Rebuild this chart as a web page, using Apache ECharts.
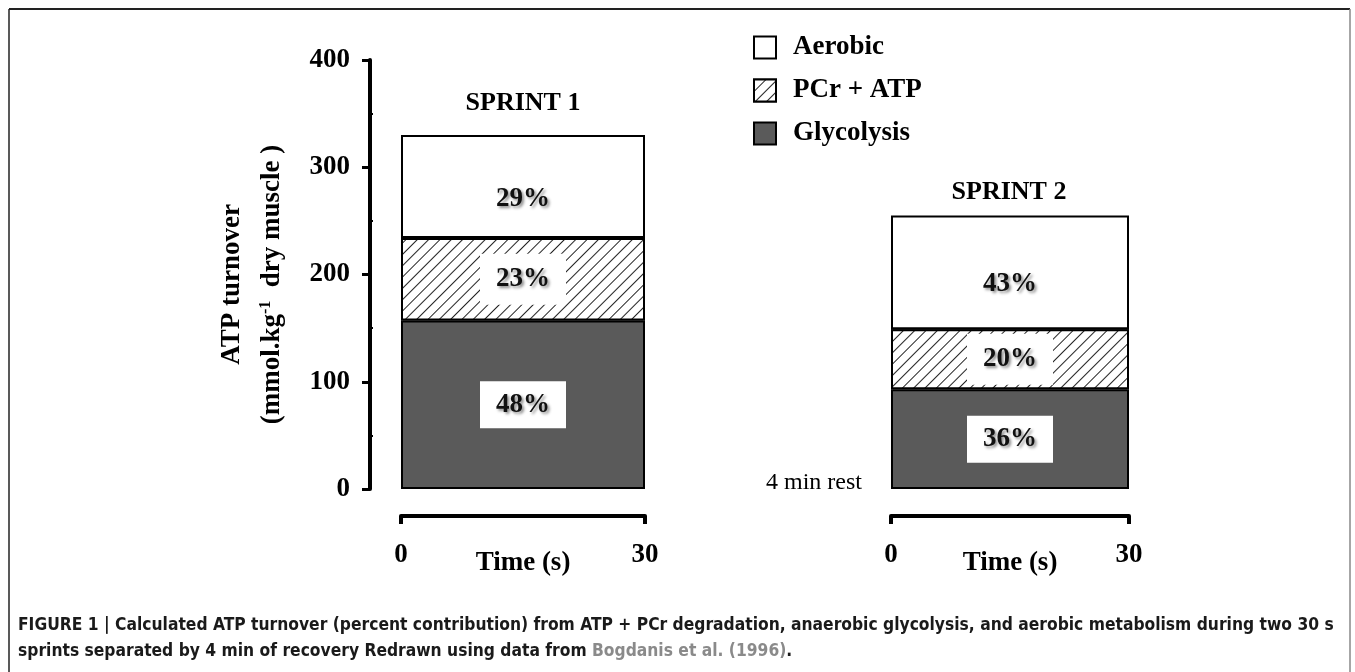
<!DOCTYPE html>
<html>
<head>
<meta charset="utf-8">
<script src="https://cdn.jsdelivr.net/npm/echarts@6/dist/echarts.min.js"></script>
<style>
  html, body { margin: 0; padding: 0; background: #fff; }
  #chart { width: 1355px; height: 672px; }
</style>
</head>
<body>
<div id="chart"></div>
<script>
// data (mmol.kg-1 dry muscle)
const sprints = ['SPRINT 1', 'SPRINT 2']
const glycolysis = [157, 93]
const pcrAtp = [77, 56]
const aerobic = [96, 106]
const glycolysisPct = ['48%', '36%']
const pcrAtpPct = ['23%', '20%']
const aerobicPct = ['29%', '43%']
const yTicks = [0, 100, 200, 300, 400]
const timeTicks = [0, 30]

const serif = 'Liberation Serif'
const narrow = "'Liberation Sans Narrow', 'DejaVu Sans Condensed', Roboto, sans-serif"
const chart = echarts.init(document.getElementById('chart'))

const grids = [
    { left: 401, width: 244, top: 60, height: 429 },
    { left: 891, width: 238, top: 60, height: 429 }
]

const hatch = {
    symbol: 'rect',
    symbolSize: 1,
    color: '#222',
    backgroundColor: '#fff',
    dashArrayX: [1, 0],
    dashArrayY: [1, 7],
    rotation: -Math.PI / 4
}

const shadowText = {
    fontFamily: serif,
    fontWeight: 'bold',
    fontSize: 27,
    color: '#111',
    textShadowColor: 'rgba(0,0,0,0.45)',
    textShadowBlur: 3,
    textShadowOffsetX: 2,
    textShadowOffsetY: 2
}

const xAxes = []
const yAxes = []
const series = []

sprints.forEach((name, i) => {
    // hidden category axis for the bar
    xAxes.push({ type: 'category', gridIndex: i, data: [name], show: false })
    // visible time axis 0..30 s
    xAxes.push({
        type: 'value', gridIndex: i, min: timeTicks[0], max: timeTicks[1], interval: 30,
        position: 'bottom', offset: 27,
        axisLine: { show: true, onZero: false, lineStyle: { color: '#000', width: 4 } },
        axisTick: { show: true, inside: false, length: 8, lineStyle: { color: '#000', width: 4 } },
        splitLine: { show: false },
        axisLabel: { margin: 26, fontFamily: serif, fontWeight: 'bold', fontSize: 27, color: '#000' },
        name: 'Time (s)', nameLocation: 'middle', nameGap: 34, nameMoveOverlap: false,
        nameTextStyle: { fontFamily: serif, fontWeight: 'bold', fontSize: 27, color: '#000' }
    })
    yAxes.push({
        type: 'value', gridIndex: i, min: yTicks[0], max: yTicks[yTicks.length - 1], interval: 100,
        show: i === 0, offset: 31,
        axisLine: { show: true, onZero: false, lineStyle: { color: '#000', width: 4 } },
        axisTick: { show: true, length: 8, lineStyle: { color: '#000', width: 3 } },
        minorTick: { show: true, splitNumber: 2, length: -3, lineStyle: { color: '#000', width: 2 } },
        splitLine: { show: false },
        axisLabel: { margin: 20, fontFamily: serif, fontWeight: 'bold', fontSize: 27, color: '#000' },
        name: '{a|ATP turnover}\n{a|(mmol.kg}{s|-1}{a|  dry muscle )}',
        nameLocation: 'middle', nameGap: 78, nameMoveOverlap: false,
        nameTextStyle: {
            padding: [0, 20, 0, 0],
            rich: {
                a: { fontFamily: serif, fontWeight: 'bold', fontSize: 27, color: '#000', lineHeight: 40 },
                s: { fontFamily: serif, fontWeight: 'bold', fontSize: 16, color: '#000', padding: [0, 0, 12, 0] }
            }
        }
    })

    const xi = i * 2
    const base = { type: 'bar', stack: 's' + i, xAxisIndex: xi, yAxisIndex: i, barWidth: '100%' }
    series.push(Object.assign({}, base, {
        name: 'Glycolysis',
        data: [glycolysis[i]],
        itemStyle: { color: '#5a5a5a', borderColor: '#000', borderWidth: 2 },
        label: {
            show: true, position: 'inside', formatter: glycolysisPct[i],
            backgroundColor: '#fff', padding: [10, 16], ...shadowText
        }
    }))
    series.push(Object.assign({}, base, {
        name: 'PCr + ATP',
        data: [pcrAtp[i]],
        itemStyle: { color: '#fff', borderColor: '#000', borderWidth: 2, decal: hatch },
        label: {
            show: true, position: 'inside', formatter: pcrAtpPct[i],
            backgroundColor: '#fff', padding: [12, 16], ...shadowText
        }
    }))
    series.push(Object.assign({}, base, {
        name: 'Aerobic',
        data: [aerobic[i]],
        itemStyle: { color: '#fff', borderColor: '#000', borderWidth: 2 },
        label: { show: true, position: 'inside', offset: [0, 12], formatter: aerobicPct[i], ...shadowText }
    }))
})

const option = {
    backgroundColor: '#fff',
    animation: false,
    grid: grids,
    xAxis: xAxes,
    yAxis: yAxes,
    series: series,
    legend: {
        data: ['Aerobic', 'PCr + ATP', 'Glycolysis'],
        orient: 'vertical',
        left: 748, top: 29,
        itemWidth: 22, itemHeight: 22, itemGap: 16,
        icon: 'rect',
        selectedMode: false,
        textStyle: { fontFamily: serif, fontWeight: 'bold', fontSize: 27, color: '#000', padding: [0, 0, 0, 12] }
    },
    graphic: [
        // figure frame
        { type: 'line', shape: { x1: 9, y1: 9, x2: 1350, y2: 9 }, style: { stroke: '#222', lineWidth: 2 } },
        { type: 'line', shape: { x1: 9, y1: 9, x2: 9, y2: 672 }, style: { stroke: '#222', lineWidth: 1.5 } },
        { type: 'line', shape: { x1: 1350, y1: 9, x2: 1350, y2: 672 }, style: { stroke: '#888', lineWidth: 1.5 } },
        // sprint titles and rest note
        { type: 'text', x: 523, y: 103, style: { text: 'SPRINT 1', fontFamily: serif, fontWeight: 'bold', fontSize: 26, fill: '#000', align: 'center', verticalAlign: 'middle' } },
        { type: 'text', x: 1009, y: 192, style: { text: 'SPRINT 2', fontFamily: serif, fontWeight: 'bold', fontSize: 26, fill: '#000', align: 'center', verticalAlign: 'middle' } },
        { type: 'text', x: 814, y: 483, style: { text: '4 min rest', fontFamily: serif, fontSize: 24, fill: '#000', align: 'center', verticalAlign: 'middle' } },
        // caption
        {
            type: 'text', x: 18, y: 639,
            style: {
                text: '{b|FIGURE 1 | Calculated ATP turnover (percent contribution) from ATP + PCr degradation, anaerobic glycolysis, and aerobic metabolism during two 30 s}\n{b|sprints separated by 4 min of recovery Redrawn using data from }{g|Bogdanis et al. (1996)}{b|.}',
                verticalAlign: 'middle',
                rich: {
                    b: { fontFamily: narrow, fontWeight: 'bold', fontSize: 17.3, fill: '#1a1a1a', lineHeight: 26 },
                    g: { fontFamily: narrow, fontWeight: 'bold', fontSize: 17.3, fill: '#8a8a8a', lineHeight: 26 }
                }
            }
        }
    ]
}

chart.setOption(option)
</script>
</body>
</html>
